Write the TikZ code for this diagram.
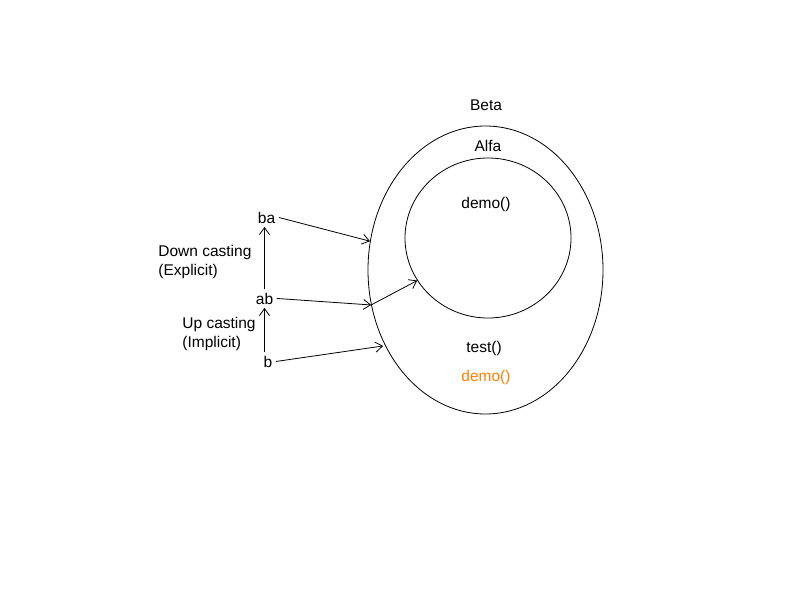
\documentclass[tikz,border=0pt]{standalone}
\usepackage{fontspec}
\setmainfont{Liberation Sans}
\usetikzlibrary{shapes.geometric,arrows.meta}
\definecolor{overridecol}{RGB}{255,128,0}

\begin{document}
\begin{tikzpicture}[x=1pt,y=-1pt,line width=0.8pt,
    >={Straight Barb[length=7pt,width=10pt]},
    every node/.style={font=\fontsize{15.5}{19}\selectfont}]
  \useasboundingbox (0,0) rectangle (800,600);
  \node[draw,ellipse,minimum width=235pt,minimum height=288pt] (beta) at (485.5,270) {};
  \node[draw,ellipse,minimum width=166pt,minimum height=160pt] (alfa) at (488,238) {};
  \node[anchor=base] (betaname) at (486,110.7) {Beta};
  \node[anchor=base] (alfaname) at (488,151.7) {Alfa};
  \node[anchor=base] (alfademo) at (486,208) {demo()};
  \node[anchor=base] (betatest) at (484,352) {test()};
  \node[anchor=base,text=overridecol] (betademo) at (486,381) {demo()};
  \node[anchor=base] (ba) at (266.5,223) {ba};
  \node[anchor=base] (ab) at (264.5,304) {ab};
  \node[anchor=base] (b) at (268,367) {b};
  \node[anchor=west,align=left,inner sep=0] (down) at (158,261.5) {Down casting\\(Explicit)};
  \node[anchor=west,align=left,inner sep=0] (up) at (182,334) {Up casting\\(Implicit)};
  \draw[->] (ab.north) -- (ab.north |- ba.south);
  \draw[->] (ab.south |- b.north) -- (ab.south);
  \draw[->] (ba.east) -- (beta.166);
  \draw[->] (ab.east) -- (beta.197);
  \draw[->,shorten >=2pt] (b.east) -- (beta.217);
  \draw[->] (beta.197) -- (alfa.211);
\end{tikzpicture}
\end{document}
